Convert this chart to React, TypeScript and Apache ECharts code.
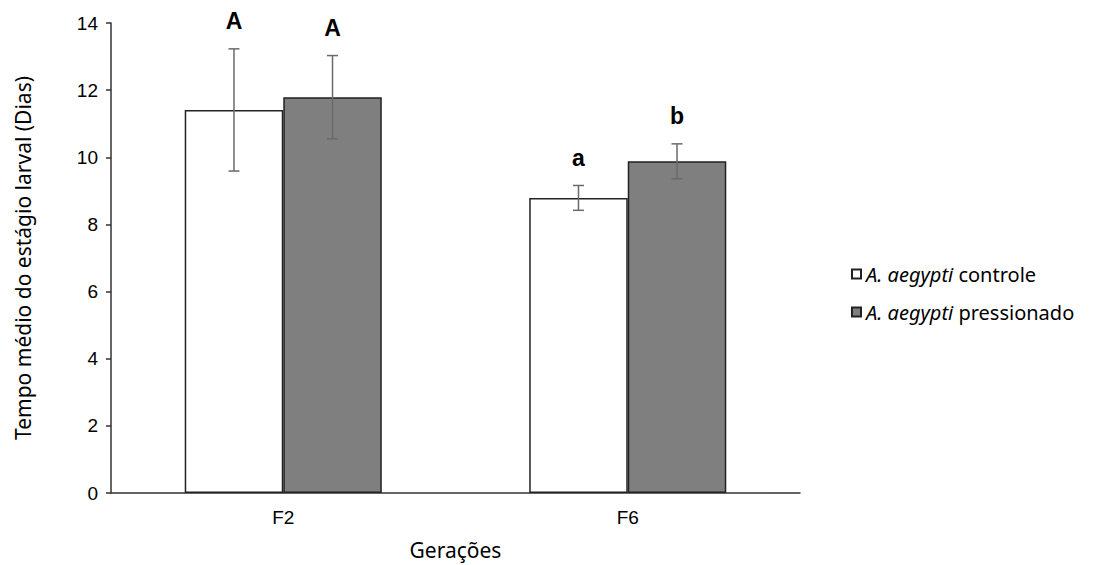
import React, { useEffect, useRef } from "react";
import * as echarts from "echarts";

const categories = ["F2", "F6"];
const controleValues = [11.41, 8.79];
const controleErrors = [1.82, 0.37];
const pressionadoValues = [11.79, 9.88];
const pressionadoErrors = [1.24, 0.52];
const controleLetters = ["A", "a"];
const pressionadoLetters = ["A", "b"];
const yTicks = [0, 2, 4, 6, 8, 10, 12, 14];

const seriesNames = ["A. aegypti controle", "A. aegypti pressionado"];
const BAR_FRAC = 0.286;

function errorSeries(values: number[], errors: number[], letters: string[], side: number) {
  return {
    type: "custom",
    name: "err" + side,
    z: 10,
    silent: true,
    data: values.map((v, i) => [i, v, errors[i]]),
    encode: { x: 0, y: 1 },
    renderItem: (params: any, api: any) => {
      const idx = api.value(0);
      const v = api.value(1);
      const e = api.value(2);
      const band = api.size([1, 0])[0];
      const bw = band * BAR_FRAC;
      const top = api.coord([idx, v + e]);
      const bot = api.coord([idx, v - e]);
      const x = top[0] + side * bw / 2;
      const cap = 5.5;
      const st = { stroke: "#6a6a6a", lineWidth: 1.5 };
      return {
        type: "group",
        children: [
          { type: "line", shape: { x1: x, y1: top[1], x2: x, y2: bot[1] }, style: st },
          { type: "line", shape: { x1: x - cap, y1: top[1], x2: x + cap, y2: top[1] }, style: st },
          { type: "line", shape: { x1: x - cap, y1: bot[1], x2: x + cap, y2: bot[1] }, style: st },
          {
            type: "text",
            style: {
              text: letters[params.dataIndex],
              x: x,
              y: top[1] - 16,
              align: "center",
              verticalAlign: "bottom",
              font: "bold 23px 'Liberation Sans', Arial, sans-serif",
              fill: "#000",
            },
          },
        ],
      };
    },
  };
}

export default function App() {
  const ref = useRef<HTMLDivElement>(null);
  useEffect(() => {
    document.body.style.margin = "0";
    if (!ref.current) return;
    const chart = echarts.init(ref.current, null, { renderer: "svg" });
    chart.setOption({
      animation: false,
      backgroundColor: "#fff",
      grid: { left: 111, top: 23, right: 299, bottom: 71, containLabel: false },
      legend: {
        orient: "vertical",
        left: 846,
        top: 259,
        itemGap: 18,
        itemWidth: 9,
        itemHeight: 9,
        icon: "rect",
        data: seriesNames,
        formatter: (name: string) => {
          const rest = name.replace("A. aegypti ", "");
          return "{i|A. aegypti} {n|" + rest + "}";
        },
        textStyle: {
          fontFamily: "'Noto Sans', sans-serif",
          fontSize: 20,
          color: "#000",
          rich: {
            i: { fontStyle: "italic", fontFamily: "'Noto Sans', sans-serif", fontSize: 20, color: "#000" },
            n: { fontFamily: "'Noto Sans', sans-serif", fontSize: 20, color: "#000" },
          },
        },
      },
      xAxis: {
        type: "category",
        data: categories,
        name: "Gerações",
        nameLocation: "middle",
        nameGap: 46,
        nameTextStyle: { fontFamily: "'Noto Sans', sans-serif", fontSize: 21, color: "#000" },
        axisLine: { lineStyle: { color: "#333", width: 1.5 } },
        axisTick: { show: false },
        axisLabel: { fontFamily: "'Liberation Sans', Arial, sans-serif", fontSize: 19, color: "#000", margin: 15 },
      },
      yAxis: {
        type: "value",
        min: 0,
        max: 14,
        interval: 2,
        name: "Tempo médio do estágio larval (Dias)",
        nameLocation: "middle",
        nameGap: 78,
        nameTextStyle: { fontFamily: "'Noto Sans', sans-serif", fontSize: 21, color: "#000" },
        axisLine: { show: true, lineStyle: { color: "#333", width: 1.5 } },
        axisTick: { show: true, length: 5, lineStyle: { color: "#333", width: 1.5 } },
        splitLine: { show: false },
        axisLabel: {
          fontFamily: "'Liberation Sans', Arial, sans-serif",
          fontSize: 19,
          color: "#000",
          margin: 13,
          formatter: (v: number) => (yTicks.includes(v) ? String(v) : ""),
        },
      },
      series: [
        {
          type: "bar",
          name: seriesNames[0],
          data: controleValues,
          barWidth: BAR_FRAC * 100 + "%",
          barGap: "0%",
          itemStyle: { color: "#ffffff", borderColor: "#222", borderWidth: 1.5 },
        },
        {
          type: "bar",
          name: seriesNames[1],
          data: pressionadoValues,
          barWidth: BAR_FRAC * 100 + "%",
          barGap: "0%",
          itemStyle: { color: "#7f7f7f", borderColor: "#222", borderWidth: 1.5 },
        },
        errorSeries(controleValues, controleErrors, controleLetters, -1),
        errorSeries(pressionadoValues, pressionadoErrors, pressionadoLetters, 1),
      ],
    });
    return () => chart.dispose();
  }, []);
  return <div ref={ref} style={{ width: 1099, height: 565 }} />;
}
